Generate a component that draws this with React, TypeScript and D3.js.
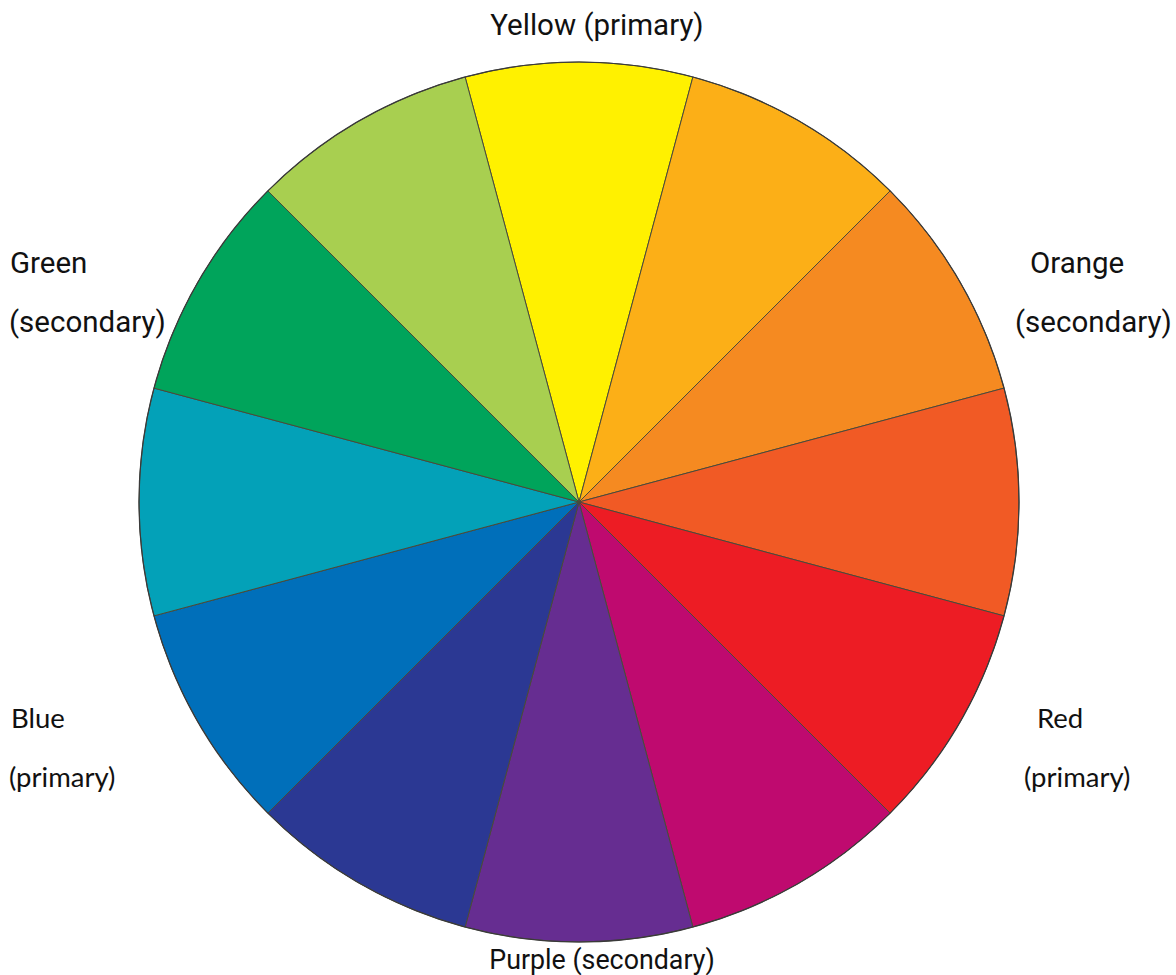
import React, { useEffect, useRef } from "react";
import * as d3 from "d3";

const segmentNames = [
  "Yellow", "Yellow-Orange", "Orange", "Red-Orange", "Red", "Red-Violet",
  "Purple", "Blue-Violet", "Blue", "Blue-Green", "Green", "Yellow-Green",
];
const segmentValues = [1, 1, 1, 1, 1, 1, 1, 1, 1, 1, 1, 1];
const segmentColors = [
  "#FFF100", "#FCAF17", "#F58A21", "#F15A25", "#ED1C24", "#BF0A6F",
  "#662D91", "#2B3893", "#006FBA", "#03A1B8", "#00A45B", "#A8CF50",
];

type Label = { text: string; x: number; y: number; anchor: string; font: string; size: number };
const labels: Label[] = [
  { text: "Yellow (primary)", x: 597, y: 35, anchor: "middle", font: "Roboto", size: 29.5 },
  { text: "Orange", x: 1030, y: 273, anchor: "start", font: "Roboto", size: 29.5 },
  { text: "(secondary)", x: 1015, y: 332, anchor: "start", font: "Roboto", size: 29.5 },
  { text: "Green", x: 10, y: 273, anchor: "start", font: "Roboto", size: 29.5 },
  { text: "(secondary)", x: 9, y: 332, anchor: "start", font: "Roboto", size: 29.5 },
  { text: "Red", x: 1037, y: 728, anchor: "start", font: "Lato", size: 27.5 },
  { text: "(primary)", x: 1024, y: 787, anchor: "start", font: "Lato", size: 27.5 },
  { text: "Blue", x: 11, y: 728, anchor: "start", font: "Lato", size: 27.5 },
  { text: "(primary)", x: 9, y: 787, anchor: "start", font: "Lato", size: 27.5 },
  { text: "Purple (secondary)", x: 602, y: 969, anchor: "middle", font: "Roboto", size: 26.8 },
];

export default function App() {
  const ref = useRef<SVGSVGElement | null>(null);
  useEffect(() => {
    const svg = d3.select(ref.current);
    svg.selectAll("*").remove();
    const cx = 579, cy = 502, r = 440;
    const data = segmentNames.map((n, i) => ({ name: n, value: segmentValues[i], color: segmentColors[i] }));
    const pie = d3.pie<any>().value((d) => d.value).sort(null)
      .startAngle(-Math.PI / 12).endAngle(2 * Math.PI - Math.PI / 12);
    const arc = d3.arc<any>().innerRadius(0).outerRadius(r);
    const g = svg.append("g").attr("transform", `translate(${cx},${cy})`);
    g.selectAll("path").data(pie(data)).join("path")
      .attr("d", arc as any)
      .attr("fill", (d: any) => d.data.color)
      .attr("stroke", "#4a4a3a")
      .attr("stroke-width", 1)
      .attr("stroke-linejoin", "round");
    g.append("circle").attr("r", r).attr("fill", "none").attr("stroke", "#3a3a3a").attr("stroke-width", 1.2);

    const t = svg.append("g");
    labels.forEach((l) => {
      t.append("text")
        .attr("x", l.x).attr("y", l.y)
        .attr("text-anchor", l.anchor)
        .attr("font-family", l.font)
        .attr("font-size", l.size)
        .attr("fill", "#111")
        .text(l.text);
    });
  }, []);
  return (
    <svg ref={ref} width={1176} height={975}
      style={{ position: "absolute", left: 0, top: 0, background: "#fff" }} />
  );
}
